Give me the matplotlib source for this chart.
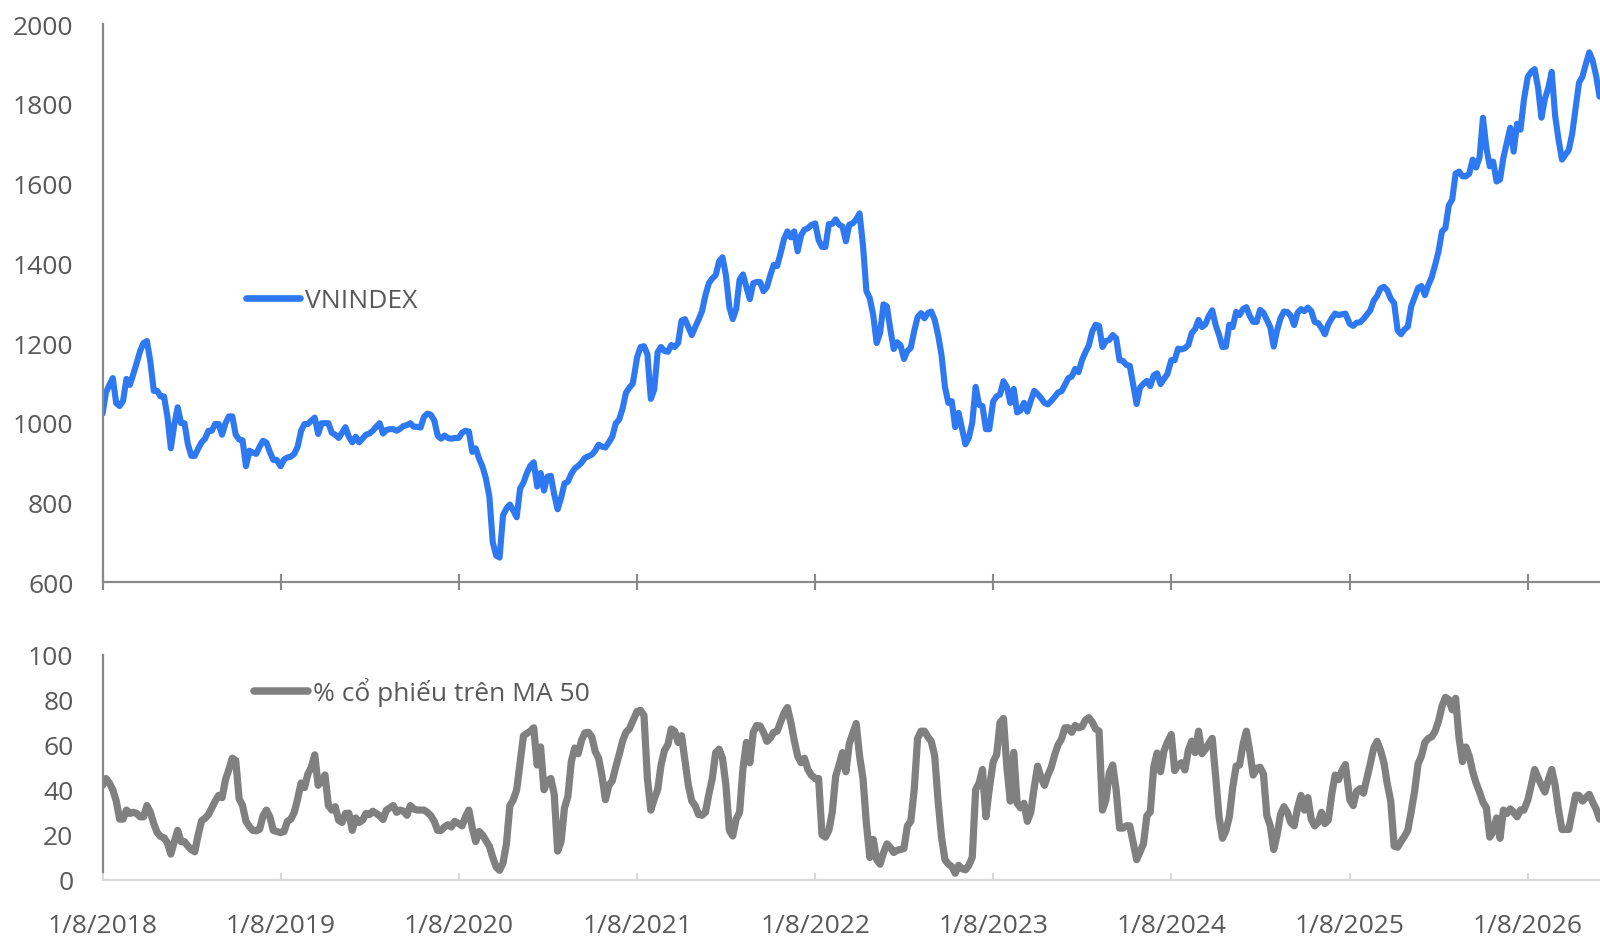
import matplotlib
matplotlib.use("Agg")
import matplotlib.pyplot as plt
import pandas as pd
import numpy as np

# ---------------- data (weekly, each year starting on its Jan-8 tick) ----------------
vn_2018 = [1023,1076,1095,1112,1049,1042,1055,1110,1095,1122,1150,1180,1200,1205,1153,1080,1080,1066,1066,1015,936,995,1039,999,999,946,917,917,935,951,960,980,980,997,997,970,999,1016,1016,970,958,956,891,930,925,922,940,955,950,927,907,907]
vn_2019 = [891,908,913,915,922,940,980,997,997,1005,1013,972,999,999,999,975,970,962,975,989,965,951,965,951,960,970,973,980,990,999,973,982,984,984,980,985,992,994,999,990,990,988,1015,1023,1020,1006,968,960,968,962,960,962]
vn_2020 = [962,975,980,978,927,936,910,890,860,815,700,667,662,768,785,795,780,763,835,850,874,892,901,840,874,830,865,867,820,783,811,848,852,872,885,892,900,912,916,920,930,945,940,938,951,965,998,1008,1035,1075,1088,1098]
vn_2021 = [1165,1190,1192,1172,1060,1083,1177,1190,1180,1178,1195,1190,1200,1256,1260,1240,1220,1240,1259,1280,1320,1350,1362,1370,1405,1415,1370,1290,1260,1285,1359,1372,1340,1310,1350,1353,1353,1330,1340,1370,1396,1393,1425,1460,1480,1465,1480,1430,1470,1484,1488,1496]
vn_2022 = [1500,1458,1441,1441,1498,1499,1510,1497,1492,1455,1497,1500,1510,1525,1445,1330,1312,1270,1200,1225,1297,1292,1235,1185,1202,1194,1160,1180,1188,1230,1265,1275,1262,1275,1279,1258,1220,1170,1090,1050,1054,989,1025,985,946,962,1000,1090,1045,1042,984,984]
vn_2023 = [1054,1066,1071,1104,1090,1050,1085,1026,1031,1050,1028,1055,1080,1072,1062,1050,1046,1055,1065,1076,1079,1095,1112,1116,1135,1127,1157,1177,1194,1229,1246,1243,1190,1205,1208,1220,1212,1157,1155,1145,1143,1095,1047,1088,1098,1105,1092,1119,1124,1097,1110,1122]
vn_2024 = [1157,1157,1186,1184,1187,1195,1225,1235,1258,1240,1247,1268,1282,1245,1220,1190,1191,1246,1240,1278,1270,1285,1290,1268,1253,1253,1283,1276,1258,1240,1191,1232,1262,1279,1278,1268,1245,1276,1285,1280,1289,1280,1253,1250,1238,1222,1247,1262,1274,1270,1272,1274]
vn_2025 = [1248,1243,1251,1252,1260,1271,1282,1306,1318,1337,1341,1332,1311,1300,1232,1222,1234,1241,1292,1315,1338,1343,1320,1345,1365,1396,1430,1480,1488,1545,1560,1625,1630,1618,1618,1625,1660,1640,1665,1765,1690,1643,1655,1605,1610,1665,1703,1740,1680,1750,1735,1810]
vn_2026 = [1868,1880,1887,1840,1765,1812,1840,1880,1770,1710,1660,1672,1684,1725,1790,1853,1868,1900,1929,1908,1870,1818]

ma_2018 = [42,45,43,40,35,27,27,31,29.5,30,29.5,28,28,33,30,25,21,19.3,18.7,16.5,11.5,17,22,17,17,15,13.5,12.5,20,26.3,27.3,29,32,35,37.5,36.5,44.5,49,54,53,36,33,26,23.7,22,21.8,22.5,28.5,31,28,22,21.5]
ma_2019 = [21,21.5,26,27,30,36,43,41,47,50,55.5,42,44,46.6,33,31,32.5,26.5,25.5,29.5,29.6,22,27.5,25.5,26.5,29.5,29,30.5,29.5,28.5,26.8,31,32,33,30,31,30.5,28.7,33,31.5,31,31,31,30,28.5,26,22,22,23.5,24.5,23.5,26]
ma_2020 = [25,24,28,31,23,17,21.5,20,17.5,15,10,5.7,4.3,7.5,16,33,35.5,40,52,64,65,66,67.5,51,59,40,44,45,38,12.8,17,32,37,52.5,58.5,56,62,65.3,65.5,63.5,57,54,46,35.6,42,44,50,55.5,61.5,65.5,67,70.5]
ma_2021 = [74.8,75.2,73,45,31,36,40,51,57.5,60,67,66,61,64,53,42,35,33,29,28.7,30,38,45,56.5,58,54,42,22,19.5,27,30,49.6,61,52,65.5,68.5,68.3,65.5,61.5,63,65.5,66,70,74,76.5,70,62,55,52,54,49,46.5]
ma_2022 = [45,45,20,19,22,30,46,51,56.5,48,60.5,65,69.4,55,45,25,10,18,9,7,12,16,14.5,12.2,13.2,13.5,14,24,26,40,62.8,66,66,63.5,61.5,55,35,19,9,7,6,3,6.5,5,4.5,6.5,10,40,43,49,28,40.5]
ma_2023 = [52.5,55.5,69.8,71.6,50,35,56.6,34,32,34,26,30,41,50.5,45.5,42,46.5,50,55.5,60,62.5,67.5,67.5,65.5,68.5,67.5,68,70.9,72,70,67,66,31,35.5,47.5,51,40,23,23,24,24,16.5,9,12.5,16,28.5,30.2,50,56.3,48,57.2,61]
ma_2024 = [64.5,48.5,51,52,48.8,57.5,61.6,56.5,66,56,58,60.5,62.8,46,28,18.5,21.8,28,41,50.5,51,60,66,57,46.5,49.5,50,47,28.5,24,13.5,20,29,32.5,30,25.5,24,32,37.5,31,36.5,27,24,25.5,30,25,26.5,38,46.5,44.5,48.5,51.2]
ma_2025 = [35.6,33,39.3,40.5,38.5,45,51.5,58.5,61.5,57.5,52,42.5,35,15,14.5,17,19.3,22,30.5,39.5,51.5,55,61,62.8,63.5,66,70.5,77,81,80,75.5,80.6,63,52.5,59,55,48,43,39,34.5,32,19,21.5,27.5,18.5,31,29.5,31.5,30,28,31,31]
ma_2026 = [35.5,42,49,45.3,42,39,44.5,49,42,31,22.4,22.4,22.4,30,37.6,37.5,35,36.5,38,34.5,31.5,27]

years = [2018, 2019, 2020, 2021, 2022, 2023, 2024, 2025, 2026]
vn_by_year = [vn_2018, vn_2019, vn_2020, vn_2021, vn_2022, vn_2023, vn_2024, vn_2025, vn_2026]
ma_by_year = [ma_2018, ma_2019, ma_2020, ma_2021, ma_2022, ma_2023, ma_2024, ma_2025, ma_2026]

tick_dates = ["2018-01-08", "2019-01-08", "2020-01-08", "2021-01-08", "2022-01-08",
              "2023-01-08", "2024-01-08", "2025-01-08", "2026-01-08"]
tick_labels = ["1/8/2018", "1/8/2019", "1/8/2020", "1/8/2021", "1/8/2022",
               "1/8/2023", "1/8/2024", "1/8/2025", "1/8/2026"]
vn_label = "VNINDEX"
ma_label = "% cổ phiếu trên MA 50"

# ---------------- build series ----------------
def build(by_year):
    idx, vals = [], []
    for y, v in zip(years, by_year):
        idx.append(pd.date_range(f"{y}-01-08", periods=len(v), freq="7D"))
        vals.extend(v)
    return pd.Series(vals, index=idx[0].append(idx[1:]))

vn = build(vn_by_year)
ma = build(ma_by_year)

# ---------------- styling ----------------
plt.rcParams['font.family'] = ['Open Sans', 'DejaVu Sans']
TXT = '#595959'
FS = 19
BLUE = '#2E78F2'
GREY_LINE = '#808080'
AX_GREY = '#898989'
LIGHT = '#D9D9D9'

fig = plt.figure(figsize=(16, 9.37), dpi=100)
ax1 = fig.add_axes([0.0641, 0.3775, 0.9359, 0.5958])
ax2 = fig.add_axes([0.0641, 0.0598, 0.9359, 0.2406])

xmin = pd.Timestamp("2018-01-08")
xmax = pd.Timestamp("2026-06-05")

# top panel
ax1.plot(vn.index, vn.values, color=BLUE, lw=4.4, solid_joinstyle='round',
         solid_capstyle='round', label=vn_label)
ax1.set_xlim(xmin, xmax)
ax1.set_ylim(600, 2000)
ax1.set_yticks(np.arange(600, 2001, 200))
for s in ['top', 'right']:
    ax1.spines[s].set_visible(False)
for s in ['left', 'bottom']:
    ax1.spines[s].set_color(AX_GREY)
    ax1.spines[s].set_linewidth(1.6)
ax1.set_xticks(pd.to_datetime(tick_dates))
ax1.set_xticklabels([])
ax1.tick_params(axis='x', direction='inout', length=11.5, width=1.5, color=AX_GREY)
ax1.tick_params(axis='y', length=0, pad=21, labelsize=FS, labelcolor=TXT)
leg1 = ax1.legend(loc='center left', bbox_to_anchor=(0.0958, 0.505), frameon=False,
                  fontsize=FS, handlelength=2.05, handletextpad=0.2,
                  borderpad=0, borderaxespad=0)
for t in leg1.get_texts():
    t.set_color(TXT)
for h in leg1.get_lines():
    h.set_linewidth(4.8)

# bottom panel
ax2.plot(ma.index, ma.values, color=GREY_LINE, lw=5.2, solid_joinstyle='round',
         solid_capstyle='round', label=ma_label)
ax2.set_xlim(xmin, xmax)
ax2.set_ylim(0, 100)
ax2.set_yticks(np.arange(0, 101, 20))
for s in ['top', 'right']:
    ax2.spines[s].set_visible(False)
ax2.spines['left'].set_color(AX_GREY)
ax2.spines['left'].set_linewidth(1.6)
ax2.spines['left'].set_bounds(3.7, 100)
ax2.spines['bottom'].set_color(LIGHT)
ax2.spines['bottom'].set_linewidth(1.6)
ax2.set_xticks(pd.to_datetime(tick_dates))
ax2.set_xticklabels(tick_labels)
ax2.tick_params(axis='x', direction='in', length=5, width=1.5, color=LIGHT,
                pad=24, labelsize=FS, labelcolor=TXT)
ax2.tick_params(axis='y', length=0, pad=21, labelsize=FS, labelcolor=TXT)
leg2 = ax2.legend(loc='center left', bbox_to_anchor=(0.1012, 0.835), frameon=False,
                  fontsize=FS, handlelength=2.05, handletextpad=0.2,
                  borderpad=0, borderaxespad=0)
for t in leg2.get_texts():
    t.set_color(TXT)
for h in leg2.get_lines():
    h.set_linewidth(5.4)

fig.savefig("out.png", dpi=100)
